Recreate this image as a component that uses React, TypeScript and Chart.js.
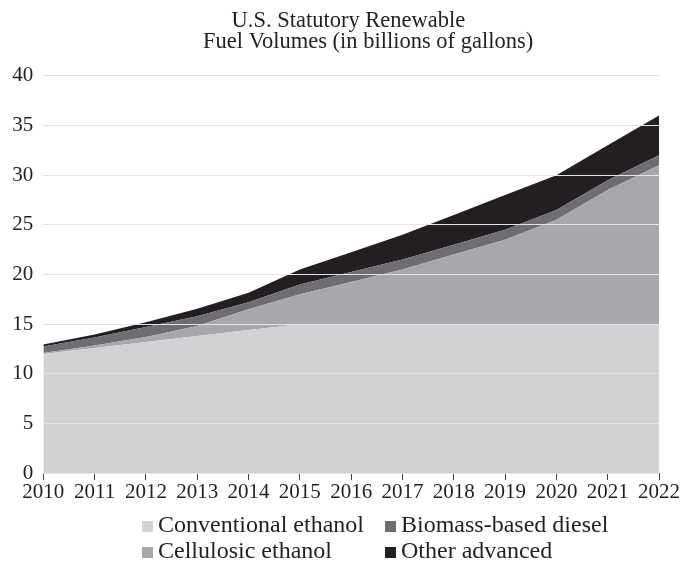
import React, { useEffect, useRef } from "react";
import { Chart, registerables } from "chart.js";

Chart.register(...registerables);

const years = ["2010", "2011", "2012", "2013", "2014", "2015", "2016", "2017", "2018", "2019", "2020", "2021", "2022"];
const conventionalEthanol = [12.0, 12.6, 13.2, 13.8, 14.4, 15.0, 15.0, 15.0, 15.0, 15.0, 15.0, 15.0, 15.0];
const cellulosicEthanol = [0.1, 0.25, 0.5, 1.0, 2.1, 3.0, 4.25, 5.5, 7.0, 8.5, 10.5, 13.5, 16.0];
const biomassDiesel = [0.65, 0.8, 1.0, 1.0, 0.7, 1.0, 1.0, 1.0, 1.0, 1.0, 1.0, 1.0, 1.0];
const otherAdvanced = [0.2, 0.3, 0.5, 0.75, 0.95, 1.5, 2.0, 2.5, 3.0, 3.5, 3.5, 3.5, 4.0];

const titleLines = ["   U.S. Statutory Renewable", "          Fuel Volumes (in billions of gallons)"];

const FONT = "'Liberation Serif', 'DejaVu Serif', serif";
const TEXT = "#231f20";
const W = 680;
const H = 569;

const legendPlugin = {
  id: "gridLegend",
  afterDraw(chart: any) {
    const ctx = chart.ctx;
    const colX = [142, 385];
    const rowY = [532, 558];
    ctx.save();
    ctx.font = `24px ${FONT}`;
    ctx.textBaseline = "alphabetic";
    ctx.textAlign = "left";
    chart.data.datasets.forEach((ds: any, i: number) => {
      const col = Math.floor(i / 2);
      const row = i % 2;
      const x = colX[col];
      const y = rowY[row];
      ctx.fillStyle = ds.backgroundColor;
      ctx.fillRect(x, y - 11, 11, 11);
      ctx.fillStyle = TEXT;
      ctx.fillText(ds.label, x + 16, y);
    });
    ctx.restore();
  },
};

export default function App() {
  const ref = useRef<HTMLCanvasElement | null>(null);
  useEffect(() => {
    if (!ref.current) return;
    const mk = (label: string, data: number[], color: string, fill: any) => ({
      label,
      data,
      backgroundColor: color,
      borderColor: color,
      borderWidth: 0,
      pointRadius: 0,
      fill,
      tension: 0,
    });
    const chart = new Chart(ref.current, {
      type: "line",
      data: {
        labels: years,
        datasets: [
          mk("Conventional ethanol", conventionalEthanol, "#d1d2d4", "origin"),
          mk("Cellulosic ethanol", cellulosicEthanol, "#a6a8ab", "-1"),
          mk("Biomass-based diesel", biomassDiesel, "#6d6e71", "-1"),
          mk("Other advanced", otherAdvanced, "#231f20", "-1"),
        ],
      },
      options: {
        animation: false,
        responsive: false,
        maintainAspectRatio: false,
        devicePixelRatio: 1,
        layout: { padding: { left: 0, right: 0, top: 0, bottom: 63.7 } },
        plugins: {
          legend: { display: false },
          tooltip: { enabled: false },
          title: {
            display: true,
            text: titleLines,
            color: TEXT,
            font: { family: FONT, size: 22.5, weight: "normal", lineHeight: 0.93 },
            padding: { top: 11, bottom: 23 },
          },
        },
        scales: {
          x: {
            offset: false,
            grid: {
              drawOnChartArea: false,
              drawTicks: true,
              tickLength: 7,
              tickColor: "#444",
            },
            border: { display: true, color: "#444", width: 1, z: 1 },
            ticks: {
              color: TEXT,
              font: { family: FONT, size: 21 },
              padding: 0,
              maxRotation: 0,
              autoSkip: false,
            },
          },
          y: {
            stacked: true,
            min: 0,
            max: 40,
            afterFit: (scale: any) => {
              scale.width = 43.3;
            },
            grid: { color: "#e4e4e4", lineWidth: 1, drawTicks: false, z: 1 },
            border: { display: false },
            ticks: {
              stepSize: 5,
              color: TEXT,
              font: { family: FONT, size: 21 },
              padding: 10,
            },
          },
        },
      },
      plugins: [legendPlugin],
    });
    return () => chart.destroy();
  }, []);
  return (
    <div style={{ position: "fixed", left: 0, top: 0, width: W, height: H }}>
      <canvas ref={ref} width={W} height={H} style={{ display: "block", width: W, height: H }} />
    </div>
  );
}
